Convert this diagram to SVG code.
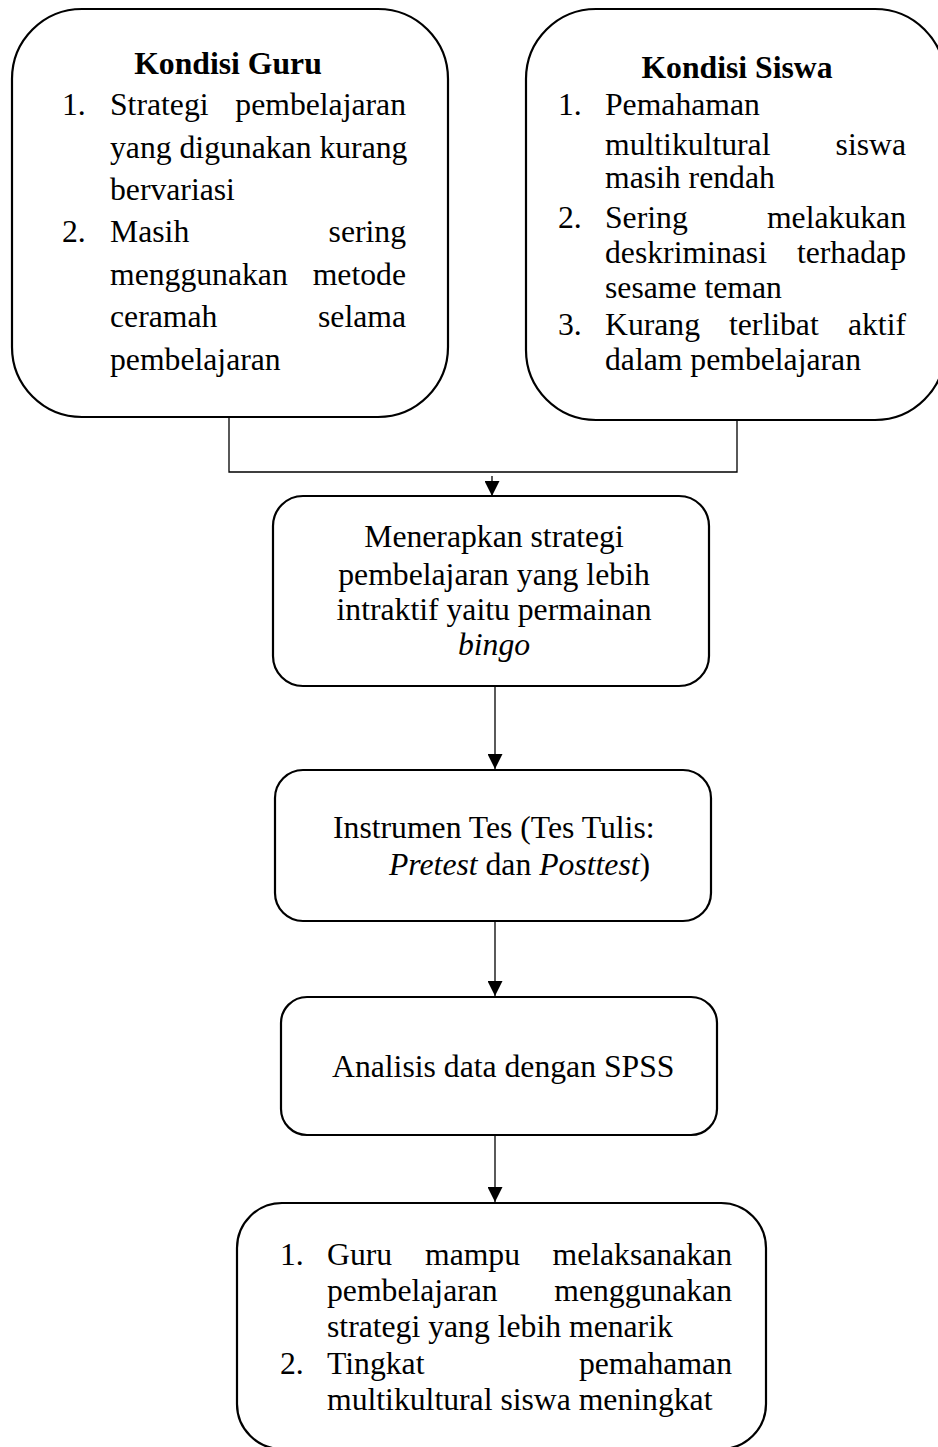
<svg xmlns="http://www.w3.org/2000/svg" width="938" height="1447" viewBox="0 0 938 1447">
<style>
.box{fill:#fff;stroke:#000;stroke-width:2.2}
.t{font-family:"Liberation Serif","Times New Roman",serif;font-size:31.7px;fill:#000}
.b{font-weight:bold}
.e{text-anchor:end}
.m{text-anchor:middle}
.i{font-style:italic}
.c{fill:none;stroke:#000;stroke-width:1.3}
</style>
<defs>
<marker id="ah" markerUnits="userSpaceOnUse" markerWidth="15" markerHeight="15" refX="15" refY="7.5" orient="auto">
<path d="M0,0 L15,7.5 L0,15 Z" fill="#000"/>
</marker>
</defs>
<rect width="938" height="1447" fill="#fff"/>

<g id="connectors">
<polyline class="c" points="229,417 229,472 737,472 737,420"/>
<line class="c" x1="492" y1="476" x2="492" y2="496" marker-end="url(#ah)"/>
<line class="c" x1="495" y1="686" x2="495" y2="769" marker-end="url(#ah)"/>
<line class="c" x1="495" y1="921" x2="495" y2="996" marker-end="url(#ah)"/>
<line class="c" x1="495" y1="1135" x2="495" y2="1202" marker-end="url(#ah)"/>
</g>

<g id="kondisi-guru">
<rect class="box" x="12" y="9" width="436" height="408" rx="70" ry="70"/>
<text class="t b m" x="228" y="74">Kondisi Guru</text>
<text class="t" x="62" y="115">1.</text>
<text class="t" x="110" y="115">Strategi</text>
<text class="t e" x="406" y="115">pembelajaran</text>
<text class="t" x="110" y="158">yang digunakan kurang</text>
<text class="t" x="110" y="200">bervariasi</text>
<text class="t" x="62" y="242">2.</text>
<text class="t" x="110" y="242">Masih</text>
<text class="t e" x="406" y="242">sering</text>
<text class="t" x="110" y="285">menggunakan</text>
<text class="t e" x="406" y="285">metode</text>
<text class="t" x="110" y="327">ceramah</text>
<text class="t e" x="406" y="327">selama</text>
<text class="t" x="110" y="370">pembelajaran</text>
</g>

<g id="kondisi-siswa">
<rect class="box" x="526" y="9" width="419" height="411" rx="70" ry="70"/>
<text class="t b m" x="737" y="78">Kondisi Siswa</text>
<text class="t" x="558" y="115">1.</text>
<text class="t" x="605" y="115">Pemahaman</text>
<text class="t" x="605" y="155">multikultural</text>
<text class="t e" x="906" y="155">siswa</text>
<text class="t" x="605" y="188">masih rendah</text>
<text class="t" x="558" y="228">2.</text>
<text class="t" x="605" y="228">Sering</text>
<text class="t e" x="906" y="228">melakukan</text>
<text class="t" x="605" y="263">deskriminasi</text>
<text class="t e" x="906" y="263">terhadap</text>
<text class="t" x="605" y="298">sesame teman</text>
<text class="t" x="558" y="335">3.</text>
<text class="t" x="605" y="335">Kurang</text>
<text class="t" x="729" y="335">terlibat</text>
<text class="t e" x="906" y="335">aktif</text>
<text class="t" x="605" y="370">dalam pembelajaran</text>
</g>

<g id="strategi-bingo">
<rect class="box" x="273" y="496" width="436" height="190" rx="30" ry="30"/>
<text class="t m" x="494" y="547">Menerapkan strategi</text>
<text class="t m" x="494" y="585">pembelajaran yang lebih</text>
<text class="t m" x="494" y="620">intraktif yaitu permainan</text>
<text class="t m i" x="494" y="655">bingo</text>
</g>

<g id="instrumen-tes">
<rect class="box" x="275" y="770" width="436" height="151" rx="28" ry="28"/>
<text class="t" x="333" y="838">Instrumen Tes (Tes Tulis:</text>
<text class="t" x="389" y="875"><tspan class="i">Pretest</tspan> dan <tspan class="i">Posttest</tspan>)</text>
</g>

<g id="analisis-data">
<rect class="box" x="281" y="997" width="436" height="138" rx="26" ry="26"/>
<text class="t" x="332" y="1077">Analisis data dengan SPSS</text>
</g>

<g id="hasil">
<rect class="box" x="237" y="1203" width="529" height="246" rx="45" ry="45"/>
<text class="t" x="280" y="1265">1.</text>
<text class="t" x="327" y="1265">Guru</text>
<text class="t" x="425" y="1265">mampu</text>
<text class="t e" x="732" y="1265">melaksanakan</text>
<text class="t" x="327" y="1301">pembelajaran</text>
<text class="t e" x="732" y="1301">menggunakan</text>
<text class="t" x="327" y="1337">strategi yang lebih menarik</text>
<text class="t" x="280" y="1374">2.</text>
<text class="t" x="327" y="1374">Tingkat</text>
<text class="t e" x="732" y="1374">pemahaman</text>
<text class="t" x="327" y="1410">multikultural siswa meningkat</text>
</g>
</svg>
